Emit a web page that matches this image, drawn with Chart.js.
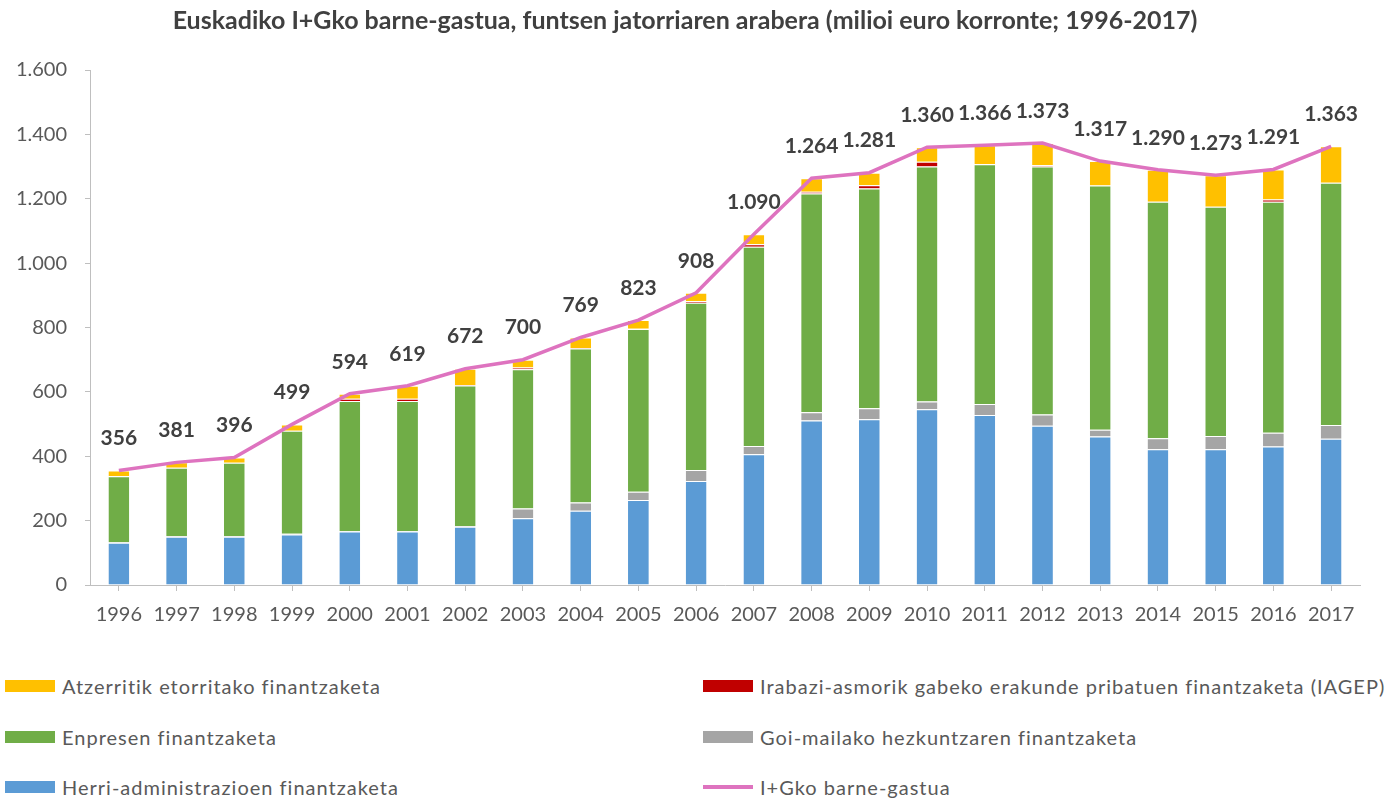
<!DOCTYPE html>
<html>
<head>
<meta charset="utf-8">
<script src="https://cdn.jsdelivr.net/npm/chart.js@4/dist/chart.umd.min.js"></script>
<style>
  body { margin: 0; background: #fff; font-family: Lato, sans-serif; }
  #wrap { position: absolute; left: 0; top: 0; width: 1392px; height: 640px; }
  .leg { position: absolute; display: flex; align-items: center; font-size: 20px; letter-spacing: 1px; color: #595959; white-space: nowrap; }
  .leg .mk { width: 50px; height: 12px; margin-right: 7px; }
  .leg .ln { width: 50px; height: 4px; margin-right: 7px; }
</style>
</head>
<body>
<div id="wrap"><canvas id="chart" width="1392" height="640"></canvas></div>
<div id="legend"></div>
<script>
// Data (milioi euro korronte)
const years = ['1996', '1997', '1998', '1999', '2000', '2001', '2002', '2003', '2004', '2005', '2006',
               '2007', '2008', '2009', '2010', '2011', '2012', '2013', '2014', '2015', '2016', '2017'];
const herriAdmin = [131, 150, 150, 157, 166, 166, 181, 207, 231, 264, 323, 406, 511, 515, 546, 528, 495, 461, 422, 422, 430, 454];
const goiMailako = [2, 2, 2, 2, 2, 2, 2, 31, 25, 26, 34, 26, 26, 34, 24, 34, 35, 21, 34, 41, 43, 43];
const enpresen = [205, 212, 228, 320, 404, 404, 437, 432, 479, 505, 520, 619, 679, 683, 730, 745, 770, 759, 735, 712, 718, 753];
const iagep = [0, 0, 0, 0, 7, 7, 1, 6, 1, 1, 5, 8, 6, 10, 15, 1, 4, 0, 0, 0, 7, 0];
const atzerri = [18, 17, 16, 20, 15, 40, 51, 24, 33, 27, 26, 31, 42, 39, 45, 58, 69, 76, 99, 98, 93, 113];
const barneGastua = [356, 381, 396, 499, 594, 619, 672, 700, 769, 823, 908, 1090, 1264, 1281, 1360, 1366, 1373, 1317, 1290, 1273, 1291, 1363];
const yTicks = [0, 200, 400, 600, 800, 1000, 1200, 1400, 1600];

const FONT = 'Lato, "Open Sans", sans-serif';

function fmt(n) {
    return String(n).replace(/\B(?=(\d{3})+(?!\d))/g, '.');
}

function barSet(label, data, color) {
    return {
        type: 'bar', label: label, data: data, backgroundColor: color,
        borderColor: '#ffffff', borderWidth: { top: 1, right: 0, bottom: 0, left: 0 },
        borderSkipped: false, order: 1, stack: 'funts'
    };
}

// numbers above the line points
const lineLabels = {
    id: 'lineLabels',
    afterDatasetsDraw(chart) {
        const ctx = chart.ctx;
        const meta = chart.getDatasetMeta(5);
        ctx.save();
        ctx.font = 'bold 21px ' + FONT;
        ctx.fillStyle = '#404040';
        ctx.textAlign = 'center';
        ctx.textBaseline = 'middle';
        meta.data.forEach((pt, i) => {
            ctx.fillText(fmt(barneGastua[i]), pt.x, pt.y - 32);
        });
        ctx.restore();
    }
};

const chart = new Chart(document.getElementById('chart'), {
    data: {
        labels: years,
        datasets: [
            barSet('Herri-administrazioen finantzaketa', herriAdmin, '#5B9BD5'),
            barSet('Goi-mailako hezkuntzaren finantzaketa', goiMailako, '#A5A5A5'),
            barSet('Enpresen finantzaketa', enpresen, '#70AD47'),
            barSet('Irabazi-asmorik gabeko erakunde pribatuen finantzaketa (IAGEP)', iagep, '#C00000'),
            barSet('Atzerritik etorritako finantzaketa', atzerri, '#FFC000'),
            {
                type: 'line', label: 'I+Gko barne-gastua', data: barneGastua,
                borderColor: '#DE73BF', backgroundColor: '#DE73BF', borderWidth: 3.5,
                pointRadius: 0, tension: 0, order: 0, stack: 'total'
            }
        ]
    },
    options: {
        responsive: false,
        devicePixelRatio: 1,
        animation: false,
        datasets: { bar: { categoryPercentage: 1, barPercentage: 0.36 } },
        layout: { padding: { left: 10, right: 32, top: 0, bottom: 0 } },
        plugins: {
            legend: { display: false },
            tooltip: { enabled: false },
            title: {
                display: true,
                text: 'Euskadiko I+Gko barne-gastua, funtsen jatorriaren arabera (milioi euro korronte; 1996-2017)',
                font: { family: FONT, size: 25, weight: 'bold' },
                color: '#404040',
                padding: { top: 6, bottom: 34 }
            }
        },
        scales: {
            x: {
                stacked: true,
                grid: { offset: false, drawOnChartArea: false, drawTicks: true, tickLength: 6, color: '#BFBFBF' },
                border: { color: '#BFBFBF', width: 1 },
                ticks: { font: { family: FONT, size: 20 }, color: '#595959', padding: 12, maxRotation: 0 },
                afterFit: (s) => { s.height = 55; }
            },
            y: {
                stacked: true,
                min: 0, max: 1600,
                afterBuildTicks: (s) => { s.ticks = yTicks.map(v => ({ value: v })); },
                grid: { drawOnChartArea: false, drawTicks: true, tickLength: 5, color: '#BFBFBF' },
                border: { color: '#BFBFBF', width: 1 },
                ticks: { font: { family: FONT, size: 20 }, color: '#595959', padding: 18, callback: (v) => fmt(v) },
                afterFit: (s) => { s.width = 80; }
            }
        }
    },
    plugins: [lineLabels]
});

// HTML legend in two columns, same order as the reference
const legendCols = [
    { x: 5, items: [4, 2, 0] },
    { x: 703, items: [3, 1, 5] }
];
const legendRows = [686, 737, 787];
const legendDiv = document.getElementById('legend');
legendCols.forEach(col => {
    col.items.forEach((di, r) => {
        const ds = chart.data.datasets[di];
        const item = document.createElement('div');
        item.className = 'leg';
        item.style.left = col.x + 'px';
        item.style.top = (legendRows[r] - 12) + 'px';
        item.style.height = '24px';
        const mk = document.createElement('span');
        mk.className = ds.type === 'line' ? 'ln' : 'mk';
        mk.style.background = ds.backgroundColor;
        const txt = document.createElement('span');
        txt.textContent = ds.label;
        item.appendChild(mk);
        item.appendChild(txt);
        legendDiv.appendChild(item);
    });
});
</script>
</body>
</html>
